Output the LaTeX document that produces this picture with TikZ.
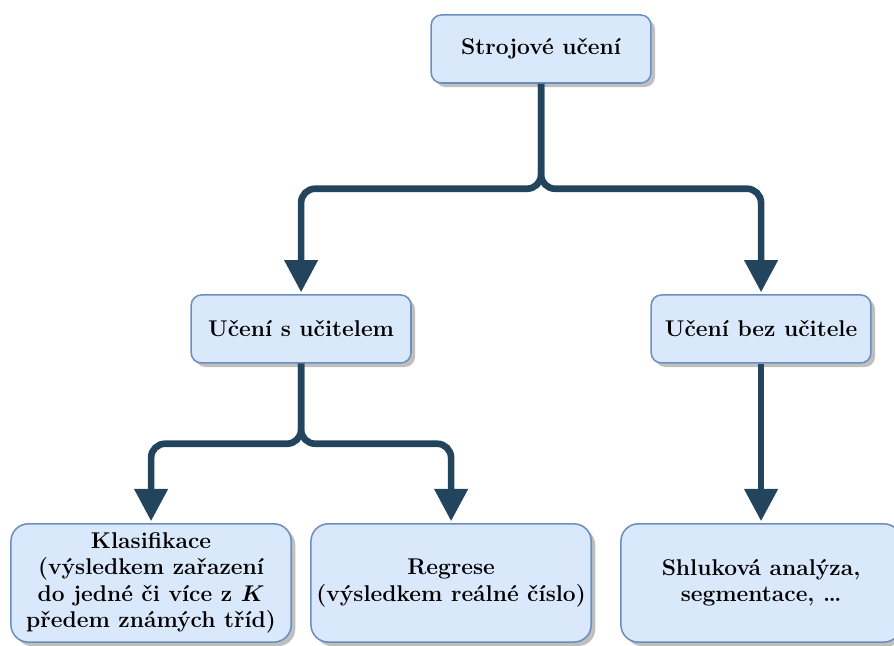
\documentclass[tikz,border=0pt]{standalone}
\usepackage{amsmath}
\usepackage{tikz}
\usetikzlibrary{arrows.meta}
\usetikzlibrary{calc}
\usetikzlibrary{shadows}
\definecolor{boxfill}{HTML}{DAE8FC}
\definecolor{boxline}{HTML}{6C8EBF}
\definecolor{linkcol}{HTML}{23445D}

\begin{document}
\begin{tikzpicture}[link/.style={-{Triangle[length=17pt,width=17pt]},line width=3.5pt,draw=linkcol,rounded corners=0.26cm,shorten >=1pt},
main node/.style={rectangle,rounded corners=0.19cm,draw=boxline,line width=0.8pt,fill=boxfill,drop shadow={shadow xshift=0.075cm,shadow yshift=-0.075cm,fill=black!25,opacity=1},align=center,font=\large\bfseries,minimum width=4.07cm,minimum height=1.26cm,inner sep=0pt},
leaf node/.style={main node,rounded corners=0.32cm,minimum width=5.19cm,minimum height=2.19cm}]

				\useasboundingbox (0,0) rectangle (16.556,-11.963);

				\node[main node] (ML) at (10.02,-0.907) {Strojové učení};
				\node[main node] (SU) [below of=ML, node distance=5.185cm, xshift=-4.444cm] {Učení s učitelem};
				\node[main node] (BU) [below of=ML, node distance=5.185cm, xshift=4.074cm] {Učení bez učitele};
				\node[leaf node] (KL) [below of=SU, node distance=4.704cm, xshift=-2.778cm] {Klasifikace\\(výsledkem zařazení\\do jedné či více z $\boldsymbol{K}$\\předem známých tříd)};
				\node[leaf node] (RE) [below of=SU, node distance=4.704cm, xshift=2.778cm] {Regrese\\(výsledkem reálné číslo)};
				\node[leaf node] (SH) [below of=BU, node distance=4.704cm] {Shluková analýza,\\segmentace, \dots};

				\draw[link] (ML.south) -- ++(0,-1.944) -| (SU.north);
				\draw[link] (ML.south) -- ++(0,-1.944) -| (BU.north);
				\draw[link] (SU.south) -- ++(0,-1.481) -| (KL.north);
				\draw[link] (SU.south) -- ++(0,-1.481) -| (RE.north);
				\draw[link] (BU.south) -- (SH.north);

\end{tikzpicture}
\end{document}
